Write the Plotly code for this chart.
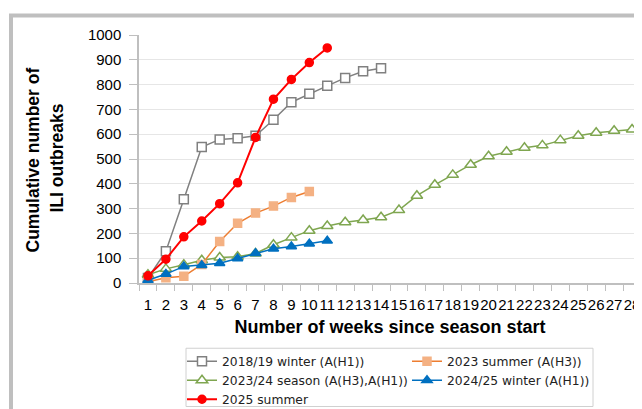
import plotly.graph_objects as go

weeks = list(range(1, 29))
week_labels = [str(w) for w in weeks]

s2018_name = "2018/19 winter (A(H1))"
s2018_vals = [20, 128, 338, 548, 579, 584, 594, 658, 729, 763, 795, 827, 854, 866]

s2023s_name = "2023 summer (A(H3))"
s2023s_vals = [5, 21, 27, 75, 167, 241, 282, 310, 345, 369]

s2324_name = "2023/24 season (A(H3),A(H1))"
s2324_vals = [33, 57, 74, 92, 103, 106, 119, 154, 183, 211, 230, 245, 254, 265,
              294, 352, 396, 436, 477, 511, 529, 545, 555, 576, 594, 606, 614, 619]

s2425_name = "2024/25 winter (A(H1))"
s2425_vals = [11, 36, 67, 72, 80, 99, 120, 138, 147, 158, 170]

s2025_name = "2025 summer"
s2025_vals = [29, 96, 186, 250, 320, 404, 587, 741, 821, 889, 948]

y_title_lines = ["Cumulative number of", "ILI outbreaks"]
x_title = "Number of weeks since season start"

# The page body adds an 8px offset. The figure is made a little larger than
# the visible window so that nothing near the edges gets clipped or pushed.
OFF = 8
W, H = 650, 430
PLOT_L, PLOT_R = 139, 641        # screen px of plot area
PLOT_T, PLOT_B = 34.5, 283.5
L = PLOT_L - OFF
R = W - (PLOT_R - OFF)
T = PLOT_T - OFF
B = H - (PLOT_B - OFF)
pw = W - L - R
ph = H - T - B


def px_x(p):
    return (p - OFF - L) / pw


def px_y(p):
    return (H - B - (p - OFF)) / ph


fig = go.Figure()


def add(name, vals, color, symbol, size, fill, legend, lw=1.5, mlw=1.5):
    fig.add_trace(go.Scatter(
        x=week_labels[:len(vals)], y=vals, name=name, mode="lines+markers",
        legend=legend,
        line=dict(color=color, width=lw),
        marker=dict(symbol=symbol, size=size, color=fill,
                    line=dict(color=color if fill == "white" else fill, width=mlw)),
    ))


add(s2018_name, s2018_vals, "#808080", "square", 9, "white", "legend")
add(s2324_name, s2324_vals, "#7FA650", "triangle-up", 10, "white", "legend")
add(s2023s_name, s2023s_vals, "#ED7D31", "square", 8, "#F4B183", "legend2")
add(s2425_name, s2425_vals, "#0070C0", "triangle-up", 9, "#0070C0", "legend2")
add(s2025_name, s2025_vals, "#FF0000", "circle", 8, "#FF0000", "legend", lw=2)

leg_font = dict(family="DejaVu Sans", size=12.3, color="#222222")
tick_font = dict(family="Liberation Sans", size=15, color="#000000")
title_font = dict(family="Liberation Sans", size=17.5, color="#000000")

fig.update_layout(
    width=W, height=H,
    margin=dict(l=L, r=R, t=T, b=B, pad=0),
    paper_bgcolor="white", plot_bgcolor="white",
    font=dict(family="Liberation Sans", size=15, color="#000000"),
    showlegend=True,
    legend=dict(
        orientation="v", x=px_x(182), xanchor="left", y=px_y(347.5), yanchor="top",
        borderwidth=0, font=leg_font, tracegroupgap=0, traceorder="normal",
        bgcolor="rgba(0,0,0,0)",
    ),
    legend2=dict(
        orientation="v", x=px_x(407), xanchor="left", y=px_y(347.5), yanchor="top",
        borderwidth=0, font=leg_font, tracegroupgap=0, traceorder="normal",
        bgcolor="rgba(0,0,0,0)",
    ),
    xaxis=dict(
        type="category", categoryorder="array", categoryarray=week_labels,
        range=[-0.5, 27.5], tickmode="linear", dtick=1, tickangle=0,
        tickson="boundaries", ticks="outside", ticklen=6, tickcolor="#bfbfbf", tickwidth=1,
        showline=True, linecolor="#bfbfbf", linewidth=1.5,
        showgrid=False, zeroline=False,
        tickfont=tick_font, ticklabelstandoff=7,
        title=dict(text="<b>" + x_title + "</b>", font=dict(family="Liberation Sans", size=18, color="#000000"),
                   standoff=9),
    ),
    yaxis=dict(
        range=[0, 1000], tickvals=list(range(0, 1001, 100)),
        ticks="outside", ticklen=8, tickcolor="#bfbfbf", tickwidth=1,
        showline=True, linecolor="#bfbfbf", linewidth=1.5,
        showgrid=True, gridcolor="#e6e6e6", gridwidth=1, zeroline=False,
        tickfont=tick_font, ticklabelstandoff=5,
    ),
    annotations=[
        dict(text="<b>" + y_title_lines[0] + "</b>", xref="paper", yref="paper",
             x=px_x(33), y=px_y(160.5), xanchor="center", yanchor="middle",
             textangle=-90, showarrow=False, font=title_font),
        dict(text="<b>" + y_title_lines[1] + "</b>", xref="paper", yref="paper",
             x=px_x(57.5), y=px_y(158), xanchor="center", yanchor="middle",
             textangle=-90, showarrow=False, font=title_font),
    ],
    shapes=[
        dict(type="rect", xref="paper", yref="paper", layer="below",
             x0=px_x(11), x1=px_x(700), y0=px_y(15), y1=px_y(470),
             line=dict(color="#bfbfbf", width=4), fillcolor="rgba(0,0,0,0)"),
        dict(type="rect", xref="paper", yref="paper", layer="below",
             x0=px_x(186), x1=px_x(593), y0=px_y(349), y1=px_y(407.5),
             line=dict(color="#d0d0d0", width=1), fillcolor="white"),
    ],
)

fig.write_html("out.html")
